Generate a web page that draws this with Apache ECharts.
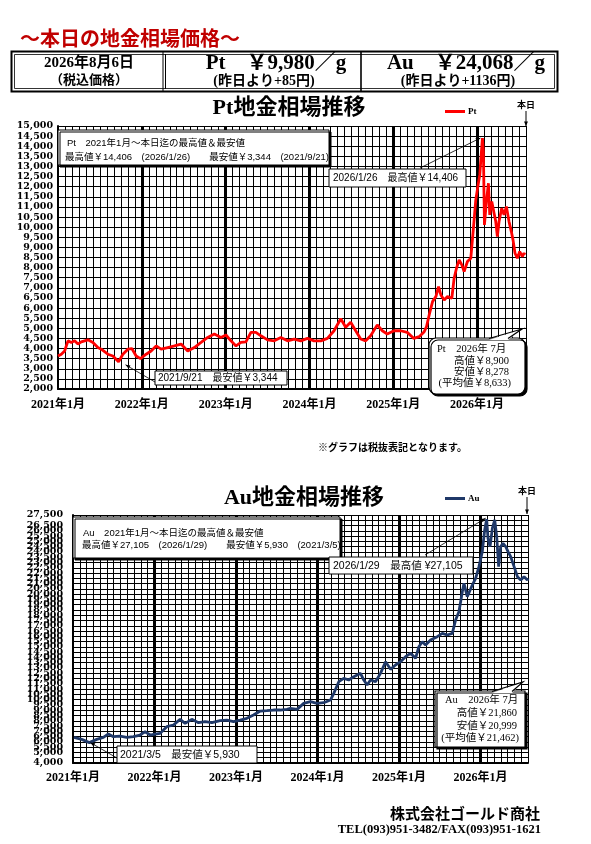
<!DOCTYPE html>
<html><head><meta charset="utf-8">
<script src="https://cdn.jsdelivr.net/npm/echarts@6/dist/echarts.min.js"></script>
<style>html,body{margin:0;padding:0;background:#fff;}#c{width:591px;height:844px;}</style>
</head><body><div id="c"></div>
<script>
// ---- data (months since 2021/1, yen per gram, tax excluded) ----
const yearLabels = ['2021年1月','2022年1月','2023年1月','2024年1月','2025年1月','2026年1月'];
const ptMonth = [0,0.48,0.95,1.43,1.9,2.38,2.86,3.33,4.29,5,5.71,6.19,7.14,7.86,8.67,9.29,10,10.57,11.19,11.81,
 12.62,13.33,14.05,14.76,15.71,16.67,17.62,18.57,19.52,20.48,21.43,22.38,23.33,24.05,24.76,25.48,26.19,26.9,27.62,28.33,
 29.05,30,30.95,31.9,32.86,33.81,34.76,35.71,36.67,37.62,38.57,39.52,40.48,41.19,41.9,42.62,43.33,44.05,44.76,45.71,
 46.43,47.14,48.1,49.05,50,50.95,51.71,52.43,52.76,53.14,53.62,54.1,54.48,54.81,55.29,55.76,56.38,56.71,57.05,57.43,
 57.81,58.14,58.62,59.1,59.43,59.81,60.14,60.38,60.76,60.9,61.05,61.33,61.62,61.81,62.1,62.43,62.67,62.9,63.14,63.52,
 63.86,64.19,64.57,64.9,65.14,65.43,65.76,66.1,66.48,66.71,66.86];
const ptPrice = [3630,3720,3880,4380,4300,4380,4220,4330,4430,4300,4050,3970,3720,3630,3344,3720,3970,4000,3630,3500,
 3720,3880,4130,3970,4050,4130,4220,3880,4050,4300,4550,4720,4550,4670,4380,4130,4300,4330,4800,4800,
 4630,4430,4380,4550,4380,4470,4380,4500,4380,4380,4500,4880,5470,5050,5300,4880,4470,4380,4630,5170,
 4880,4720,4880,4880,4800,4500,4588,4835,5083,5660,6320,6568,7062,6650,6400,6568,6485,7476,7970,8382,
 8135,7805,8300,8464,9782,11347,12088,12583,14406,13735,10112,11265,12170,10606,11265,10688,10276,9535,10276,10935,
 10606,11018,10276,9782,9370,8711,8464,8794,8547,8711,8633];
const auMonth = [0.15,1.28,2.41,3.49,4.47,5.21,5.95,6.93,7.91,8.89,9.88,10.61,11.35,12.09,12.83,13.81,14.79,15.77,16.51,17.49,
 18.48,19.46,20.44,21.67,22.65,23.64,24.62,25.6,26.58,27.57,28.55,29.53,30.52,31.5,32,33,33.97,34.95,35.94,36.92,
 37.91,38.4,39.14,39.87,40.61,41.35,42.33,42.82,43.31,43.81,44.54,45.28,46.02,46.76,47.49,48.23,48.97,49.71,50.44,50.93,
 51.43,51.92,52.65,53.64,54.38,55.11,55.85,56.34,56.83,57.33,57.57,58.06,58.8,59.29,59.78,60.27,60.62,60.91,61.11,61.41,
 61.75,62.1,62.39,62.68,62.98,63.32,63.72,64.06,64.45,64.95,65.44,65.93,66.42,66.91,67];
const auPrice = [6430,6240,5930,6240,6430,6745,6493,6556,6430,6493,6650,6966,6650,6745,6808,7441,7600,8136,7757,8136,
 7820,7915,7820,8010,8072,7915,8072,8230,8546,8925,8956,9020,9020,9083,9177,9083,9652,9810,9652,9715,
 9968,10599,11705,12021,11863,12179,12495,11863,11389,11863,11705,12495,13600,12874,13284,13600,14074,14391,13916,15022,
 15496,15180,15654,15970,16286,16128,16286,17552,18337,20234,21027,19760,20866,21498,22604,24025,26079,27105,25289,24500,
 26236,27026,25447,22604,24500,24815,24500,24025,23551,22604,21656,21340,21656,21340,21498];
const ptAxis = [2000, 15000, 500];
const auAxis = [4000, 27500, 500];
const ptStats = {high:14406, highDate:'2026/1/26', low:3344, lowDate:'2021/9/21', lowM:8.67, highM:60.76};
const auStats = {high:27105, highDate:'2026/1/29', low:5930, lowDate:'2021/3/5', lowM:2.41, highM:60.91};
const ptJuly = [8900, 8278, 8633];
const auJuly = [21860, 20999, 21462];
const today = '2026年8月6日';
const ptToday = [9980, 85];
const auToday = [24068, 1136];

// ---- helpers ----
const fmt = n => n.toLocaleString('en-US');
const JP = "'Noto Sans CJK JP'";
const SERIF = "'Liberation Serif'," + JP;
const SANS = "'Liberation Sans'," + JP;
const pairs = (xs, ys) => xs.map((x, i) => [x, ys[i]]);

const chart = echarts.init(document.getElementById('c'), null, {renderer: 'canvas'});

function monthAxis(grid) {
  return {type:'value', gridIndex:grid, min:0, max:67, interval:1, position:'bottom',
    axisLine:{show:true, onZero:false, lineStyle:{color:'#000', width:2}},
    axisTick:{show:false}, axisLabel:{show:false},
    splitLine:{show:true, lineStyle:{color:'#000', width:1}}};
}
function yearAxis(grid, margin) {
  return {type:'value', gridIndex:grid, min:0, max:67, interval:12, position:'bottom',
    axisLine:{show:false}, axisTick:{show:false},
    axisLabel:{show:true, margin:margin, color:'#000', fontFamily:SERIF, fontWeight:'bold', fontSize:12,
      formatter: v => (v % 12 === 0 && v / 12 < yearLabels.length) ? yearLabels[v / 12] : ''},
    splitLine:{show:true, showMinLine:false, showMaxLine:false, lineStyle:{color:'#000', width:3}}};
}
function yAxis(grid, ax, margin) {
  return {type:'value', gridIndex:grid, min:ax[0], max:ax[1], interval:ax[2],
    axisLine:{show:true, lineStyle:{color:'#000', width:2}},
    axisTick:{show:true, length:3, inside:true, lineStyle:{color:'#000'}},
    axisLabel:{show:true, margin:margin, color:'#000', fontFamily:"'DejaVu Serif'", fontWeight:'bold', fontSize:9.5,
      hideOverlap:false, interval:0, showMinLabel:true, showMaxLabel:true,
      formatter: v => fmt(v)},
    splitLine:{show:true, lineStyle:{color:'#000', width:1}}};
}

chart.setOption({
  animation:false,
  backgroundColor:'#fff',
  grid:[
    {left:58, top:126, width:468, height:263, outerBoundsMode:'none', containLabel:false},
    {left:73, top:515, width:455, height:248, outerBoundsMode:'none', containLabel:false}
  ],
  xAxis:[monthAxis(0), yearAxis(0, 10), monthAxis(1), yearAxis(1, 9)],
  yAxis:[yAxis(0, ptAxis, 5), yAxis(1, auAxis, 10)],
  legend:[
    {data:['Pt'], left:440, top:102, icon:'rect', itemWidth:20, itemHeight:3, itemGap:2,
     textStyle:{fontSize:9, fontFamily:SERIF, fontWeight:'bold', color:'#000', padding:[0,0,0,-2]}},
    {data:['Au'], left:440, top:489, icon:'rect', itemWidth:20, itemHeight:3, itemGap:2,
     textStyle:{fontSize:9, fontFamily:SERIF, fontWeight:'bold', color:'#000', padding:[0,0,0,-2]}}
  ],
  series:[
    {name:'Pt', type:'line', xAxisIndex:0, yAxisIndex:0, data:pairs(ptMonth, ptPrice),
     showSymbol:false, symbol:'none', color:'#ff0000', lineStyle:{color:'#ff0000', width:2.8}, z:5},
    {name:'Au', type:'line', xAxisIndex:2, yAxisIndex:1, data:pairs(auMonth, auPrice),
     showSymbol:false, symbol:'none', color:'#1f3868', lineStyle:{color:'#1f3868', width:2.8}, z:5}
  ]
});

// ---- annotations ----
function txt(x, y, text, font, opts) {
  opts = opts || {};
  return {type:'text', x:x, y:y, z:opts.z || 120, silent:true,
    style:{text:text, font:font, fill:opts.fill || '#000',
      textAlign:opts.align || 'left', align:opts.align || 'left',
      textVerticalAlign:'middle', verticalAlign:'middle'}};
}
function box(x, y, w, h, opts) {
  opts = opts || {};
  return {type:'rect', z:opts.z || 110, silent:true, shape:{x:x, y:y, width:w, height:h, r:opts.r || 0},
    style:{fill:'#fff', stroke:'#000', lineWidth:opts.lw || 1,
      shadowColor: opts.shadow ? '#000' : 'rgba(0,0,0,0)', shadowBlur:0,
      shadowOffsetX: opts.shadow ? 2 : 0, shadowOffsetY: opts.shadow ? 2 : 0}};
}
function line(x1, y1, x2, y2, lw, z) {
  return {type:'line', z:z || 115, silent:true, shape:{x1:x1, y1:y1, x2:x2, y2:y2},
    style:{stroke:'#000', lineWidth:lw || 1}};
}
function arrow(x1, y1, x2, y2, lw, head) {
  head = head || 5;
  const a = Math.atan2(y2 - y1, x2 - x1);
  const p1 = [x2 - head * Math.cos(a - 0.4), y2 - head * Math.sin(a - 0.4)];
  const p2 = [x2 - head * Math.cos(a + 0.4), y2 - head * Math.sin(a + 0.4)];
  return [line(x1, y1, x2, y2, lw || 0.8, 118),
    {type:'polygon', z:118, silent:true, shape:{points:[[x2, y2], p1, p2]}, style:{fill:'#000'}}];
}
function tail(pts, z) {
  return [
    {type:'polygon', z:z, silent:true, shape:{points:[[pts[0][0], pts[0][1] + 1.5], pts[1], [pts[2][0], pts[2][1] + 1.5]]}, style:{fill:'#fff'}},
    {type:'polyline', z:z, silent:true, shape:{points:pts}, style:{stroke:'#000', lineWidth:1.2, fill:null}}
  ];
}

const ptPeak = chart.convertToPixel({xAxisIndex:0, yAxisIndex:0}, [ptStats.highM, ptStats.high]);
const ptMin = chart.convertToPixel({xAxisIndex:0, yAxisIndex:0}, [ptStats.lowM, ptStats.low]);
const auPeak = chart.convertToPixel({xAxisIndex:2, yAxisIndex:1}, [auStats.highM, auStats.high]);
const auMin = chart.convertToPixel({xAxisIndex:2, yAxisIndex:1}, [auStats.lowM, auStats.low]);

const F9 = "9.5px " + SANS;
const F10 = "10px " + SANS;
const FS10 = "10.5px " + SERIF;
let g = [];

// header
g.push(txt(20, 38, '～本日の地金相場価格～', "bold 20px " + JP, {fill:'#c00000'}));
g.push({type:'rect', z:100, silent:true, shape:{x:11.5, y:51.5, width:546, height:40}, style:{fill:'none', stroke:'#000', lineWidth:2}});
g.push({type:'rect', z:100, silent:true, shape:{x:14.5, y:54.5, width:540, height:34}, style:{fill:'none', stroke:'#000', lineWidth:0.8}});
g.push(line(163, 52, 163, 91, 1, 100));
g.push(line(165.5, 54, 165.5, 89, 1, 100));
g.push(line(361, 52, 361, 91, 1.6, 100));
g.push(txt(89, 63, today, "bold 15px " + SERIF, {align:'center'}));
g.push(txt(89, 79, '（税込価格）', "bold 13px " + JP, {align:'center'}));
g.push(txt(276, 64, 'Pt　￥' + fmt(ptToday[0]) + '／g', "bold 21px " + SERIF, {align:'center'}));
g.push(txt(264, 81, '(昨日より+' + ptToday[1] + '円)', "bold 14px " + SERIF, {align:'center'}));
g.push(txt(466, 64, 'Au　￥' + fmt(auToday[0]) + '／g', "bold 21px " + SERIF, {align:'center'}));
g.push(txt(458, 81, '(昨日より+' + auToday[1] + '円)', "bold 14px " + SERIF, {align:'center'}));

// Pt chart titles / markers
g.push(txt(289, 108, 'Pt地金相場推移', "bold 22px " + SERIF, {align:'center'}));
g.push(txt(526, 105, '本日', "bold 9px " + JP, {align:'center'}));
g = g.concat(arrow(526, 111, 526, 126, 1, 5));
// Pt box 1
g.push(box(58, 130, 271, 35, {shadow:true, lw:1}));
g.push(txt(67, 143, 'Pt　2021年1月～本日迄の最高値＆最安値', F9));
g.push(txt(65, 157, '最高値￥' + fmt(ptStats.high) + '　(' + ptStats.highDate + ')　　最安値￥' + fmt(ptStats.low) + '　(' + ptStats.lowDate + ')', F9));
// Pt box 2 (high)
g.push(box(329, 169, 137, 18));
g.push(txt(333, 178, ptStats.highDate + '　最高値￥' + fmt(ptStats.high), F10));
g = g.concat(arrow(420, 168, ptPeak[0] - 2, ptPeak[1], 0.8, 5));
// Pt box 3 (low)
g.push(box(155, 371, 132, 14));
g.push(txt(158, 378, ptStats.lowDate + '　最安値￥' + fmt(ptStats.low), F10));
g = g.concat(arrow(155, 382, ptMin[0] + 7, ptMin[1] + 3, 0.8, 5));
// Pt callout
g.push(box(429, 338, 96, 56, {r:7, shadow:true, lw:1.2, z:110}));
g = g.concat(tail([[489, 338.5], [522, 329], [508, 338.5]], 112));
g.push(txt(437, 349, 'Pt　2026年 7月', FS10));
g.push(txt(509, 361, '高値￥' + fmt(ptJuly[0]), FS10, {align:'right'}));
g.push(txt(509, 372, '安値￥' + fmt(ptJuly[1]), FS10, {align:'right'}));
g.push(txt(511, 383, '(平均値￥' + fmt(ptJuly[2]) + ')', FS10, {align:'right'}));

// note
g.push(txt(318, 447, '※グラフは税抜表記となります。', "bold 10px " + JP));

// Au chart titles / markers
g.push(txt(304, 498, 'Au地金相場推移', "bold 22px " + SERIF, {align:'center'}));
g.push(txt(527, 491, '本日', "bold 9px " + JP, {align:'center'}));
g = g.concat(arrow(527, 497, 527, 514, 1, 5));
// Au box 1
g.push(box(73, 517, 267, 41, {shadow:true, lw:1}));
g.push(txt(83, 533, 'Au　2021年1月～本日迄の最高値＆最安値', F9));
g.push(txt(82, 545, '最高値￥' + fmt(auStats.high) + '　(' + auStats.highDate + ')　　最安値￥' + fmt(auStats.low) + '　(' + auStats.lowDate + ')', F9));
// Au box 2
g.push(box(329, 557, 144, 17));
g.push(txt(333, 566, auStats.highDate + '　最高値 ¥' + fmt(auStats.high), "10.5px " + SANS));
g = g.concat(arrow(425, 555, auPeak[0] - 1, auPeak[1] - 1, 0.8, 5));
// Au box 3
g.push(box(117, 746, 140, 17));
g.push(txt(120, 755, auStats.lowDate + '　最安値￥' + fmt(auStats.low), "10.5px " + SANS));
g = g.concat(arrow(117, 758, auMin[0] + 1, auMin[1], 0.8, 5));
// Au callout
g.push(box(435, 691, 90, 56, {shadow:true, lw:1.2, z:110}));
g = g.concat(tail([[492, 691.5], [523, 682], [512, 691.5]], 112));
g.push(txt(445, 700, 'Au　2026年 7月', FS10));
g.push(txt(517, 713, '高値￥' + fmt(auJuly[0]), FS10, {align:'right'}));
g.push(txt(517, 726, '安値￥' + fmt(auJuly[1]), FS10, {align:'right'}));
g.push(txt(519, 738, '(平均値￥' + fmt(auJuly[2]) + ')', FS10, {align:'right'}));

// footer
g.push(txt(540, 813, '株式会社ゴールド商社', "bold 15px " + JP, {align:'right'}));
g.push(txt(541, 830, 'TEL(093)951-3482/FAX(093)951-1621', "bold 12.5px " + SERIF, {align:'right'}));

chart.setOption({graphic:{elements:g}});
</script></body></html>
